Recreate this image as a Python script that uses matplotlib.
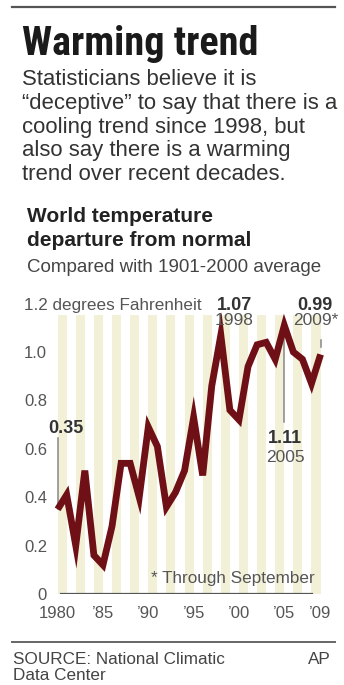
import matplotlib
matplotlib.use('Agg')
import matplotlib.pyplot as plt

# data: world temperature departure from 1901-2000 average (deg F)
years = list(range(1980, 2010))
temps = [0.35, 0.41, 0.20, 0.51, 0.16, 0.12, 0.28, 0.54, 0.54, 0.40,
         0.69, 0.61, 0.36, 0.42, 0.51, 0.73, 0.49, 0.86, 1.07, 0.76,
         0.72, 0.94, 1.03, 1.04, 0.97, 1.11, 1.00, 0.97, 0.87, 0.99]
ytick_vals = [0, 0.2, 0.4, 0.6, 0.8, 1.0]
ytick_labels = ['0', '0.2', '0.4', '0.6', '0.8', '1.0']
xtick_vals = [1980, 1985, 1990, 1995, 2000, 2005, 2009]
xtick_labels = ['1980', '\u201985', '\u201990', '\u201995', '\u201900', '\u201905', '\u201909']

W, H = 344, 685
plt.rcParams['font.family'] = ['Liberation Sans', 'DejaVu Sans']

fig = plt.figure(figsize=(W / 100, H / 100), dpi=100)
fig.patch.set_facecolor('white')


def px(x, y):
    return x / W, 1 - y / H


def ftext(x, y, s, **kw):
    kw.setdefault('va', 'baseline')
    fig.text(*px(x, y), s, **kw)


# top / bottom rules
fig.add_artist(plt.Line2D([12 / W, 335 / W], [1 - 7 / H, 1 - 7 / H], color='#555555', lw=1.6))
fig.add_artist(plt.Line2D([12 / W, 335 / W], [1 - 642 / H, 1 - 642 / H], color='#666666', lw=1.4))

# headline and intro
ftext(22, 55, 'Warming trend', fontsize=29, fontweight='bold', color='#1a1a1a',
      family=['Roboto Condensed', 'Liberation Sans'])
intro = ['Statisticians believe it is',
         '\u201cdeceptive\u201d to say that there is a',
         'cooling trend since 1998, but',
         'also say there is a warming',
         'trend over recent decades.']
for i, line in enumerate(intro):
    ftext(22, 85 + 23.75 * i, line, fontsize=15.9, color='#333333')

ftext(27, 222, 'World temperature', fontsize=15, fontweight='bold', color='#222222')
ftext(27, 246, 'departure from normal', fontsize=15, fontweight='bold', color='#222222')
ftext(27, 272, 'Compared with 1901-2000 average', fontsize=13.5, color='#444444')

# chart
ax = fig.add_axes([54 / W, 1 - 594 / H, (326 - 54) / W, (594 - 315) / H])
ax.set_xlim(1979.6, 2009.6)
ax.set_ylim(0, 1.153)
for y in years[::2]:
    ax.axvspan(y, y + 1, color='#f2f0d6', lw=0, zorder=0)
ax.axhline(0, xmin=0.027, xmax=0.95, color='#555555', lw=1.6, zorder=1)

ax.plot(years, temps, color='#6e1016', lw=4.9, solid_joinstyle='miter',
        solid_capstyle='butt', zorder=3, clip_on=False)

# leader lines
ax.plot([1980, 1980], [temps[0], 0.645], color='#888888', lw=1.1, zorder=2)
ax.plot([2005, 2005], [0.71, temps[25]], color='#888888', lw=1.1, zorder=2)
ax.plot([2009, 2009], [1.02, 1.05], color='#888888', lw=1.1, zorder=2, clip_on=False)

for s in ax.spines.values():
    s.set_visible(False)
ax.set_yticks(ytick_vals)
ax.set_yticklabels(ytick_labels)
ax.set_xticks(xtick_vals)
ax.set_xticklabels(xtick_labels)
ax.tick_params(length=0, labelsize=12, colors='#555555')
ax.tick_params(axis='y', pad=5)
ax.tick_params(axis='x', pad=9)

# annotations
ftext(24, 310, '1.2 degrees Fahrenheit', fontsize=12.3, color='#555555')
ftext(48, 433, '0.35', fontsize=13, fontweight='bold', color='#333333')
ftext(217, 310, '1.07', fontsize=13, fontweight='bold', color='#333333')
ftext(215, 325, '1998', fontsize=12.5, color='#555555')
ftext(315, 310, '0.99', fontsize=13, fontweight='bold', color='#333333', ha='center')
ftext(316, 325, '2009*', fontsize=12.5, color='#555555', ha='center')
ftext(285, 443, '1.11', fontsize=13, fontweight='bold', color='#333333', ha='center')
ftext(285, 462, '2005', fontsize=12.5, color='#555555', ha='center')
ftext(315, 583, '* Through September', fontsize=12.3, color='#555555', ha='right')

# source
ftext(13, 664, 'SOURCE: National Climatic', fontsize=12.3, color='#444444')
ftext(13, 680, 'Data Center', fontsize=12.3, color='#444444')
ftext(331, 664, 'AP', fontsize=12.3, color='#444444', ha='right')

fig.savefig('out.png', dpi=100, facecolor='white')
